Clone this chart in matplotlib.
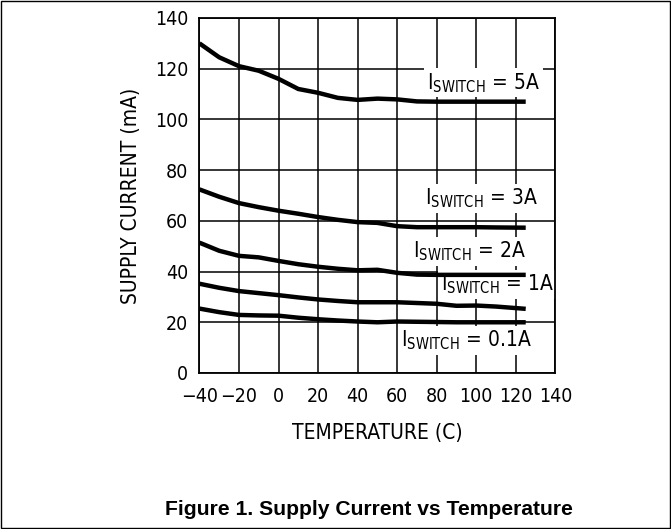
import matplotlib
matplotlib.use('Agg')
import matplotlib.pyplot as plt
from matplotlib.patches import Rectangle

# narrow font for the chart body
plt.rcParams['font.family'] = ['DejaVu Sans']
plt.rcParams['font.stretch'] = 'condensed'
plt.rcParams['mathtext.fontset'] = 'custom'
plt.rcParams['mathtext.rm'] = 'DejaVu Sans:stretch=condensed'
plt.rcParams['mathtext.it'] = 'DejaVu Sans:stretch=condensed'

# data
temp = [-40, -30, -20, -10, 0, 10, 20, 30, 40, 50, 60, 70, 80, 90, 100, 110, 125]
i_5a = [130, 124.5, 121, 119.2, 116, 112, 110.5, 108.5, 107.7, 108.2, 107.9, 107.1, 107, 107, 107, 107, 107]
i_3a = [72.4, 69.5, 67, 65.4, 64, 62.8, 61.5, 60.4, 59.5, 59.2, 57.9, 57.5, 57.5, 57.5, 57.5, 57.4, 57.3]
i_2a = [51.4, 48.2, 46.2, 45.6, 44.2, 42.9, 41.9, 41.1, 40.5, 40.7, 39.5, 38.8, 38.7, 38.7, 38.7, 38.7, 38.7]
i_1a = [35.2, 33.6, 32.3, 31.5, 30.7, 29.8, 29, 28.4, 27.9, 27.9, 27.9, 27.6, 27.3, 26.5, 26.6, 26.2, 25.3]
i_01a = [25.4, 24, 22.9, 22.7, 22.6, 21.8, 21.2, 20.7, 20.3, 20, 20.3, 20.2, 20.1, 20, 20, 20, 20]

series = [i_5a, i_3a, i_2a, i_1a, i_01a]
labels = ['5A', '3A', '2A', '1A', '0.1A']
label_x = [75, 74, 68, 82, 62]
label_y = [112, 66.4, 45.4, 32.5, 10.3]

xticks = list(range(-40, 141, 20))
yticks = list(range(0, 141, 20))

fig = plt.figure(figsize=(6.71, 5.29), dpi=100)
ax = fig.add_axes([0.2972, 0.2949, 0.5305, 0.6711])

ax.set_xlim(-40, 140)
ax.set_ylim(0, 140)
ax.set_xticks(xticks)
ax.set_yticks(yticks)
ax.set_xticklabels([str(t).replace('-', '\u2212') for t in xticks])
ax.tick_params(length=0, labelsize=14, pad=10)
ax.tick_params(axis='y', pad=8)
ax.grid(True, color='black', linewidth=1.1, zorder=0)
ax.set_axisbelow(True)
for s in ax.spines.values():
    s.set_linewidth(1.3)

for ys in series:
    ax.plot(temp, ys, color='black', linewidth=3.2, solid_capstyle='butt', zorder=4)

# labels sit above the grid but under the spines and curves
for lab, lx, ly in zip(labels, label_x, label_y):
    ax.text(lx, ly, r'$\mathrm{I_{SWITCH}}$ = ' + lab, fontsize=15, ha='left', va='baseline',
            zorder=2, bbox=dict(facecolor='white', edgecolor='none', pad=2))

ax.set_xlabel('TEMPERATURE (C)', fontsize=15, labelpad=12)
ax.set_ylabel('SUPPLY CURRENT (mA)', fontsize=15, labelpad=10)

fig.text(0.55, 0.036, 'Figure 1. Supply Current vs Temperature', fontsize=15.2,
         fontweight='bold', family=['Liberation Sans', 'DejaVu Sans'], stretch='normal',
         ha='center', va='center')

# outer frame
fig.patches.append(Rectangle((0.002, 0.002), 0.996, 0.996, transform=fig.transFigure,
                             fill=False, edgecolor='black', linewidth=1))

fig.savefig('out.png', dpi=100)
